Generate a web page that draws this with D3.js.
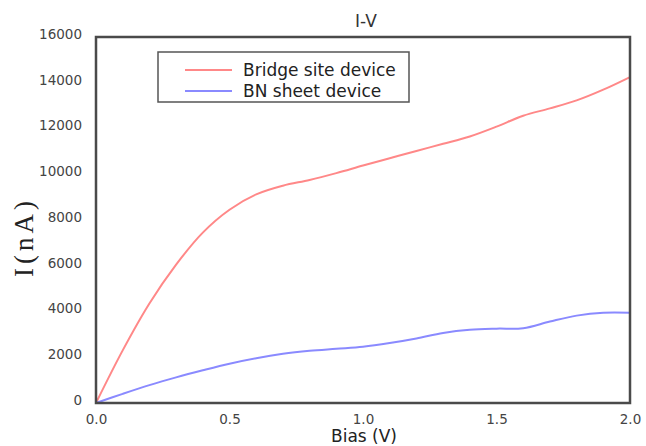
<!DOCTYPE html>
<html>
<head>
<meta charset="utf-8">
<script src="https://cdn.jsdelivr.net/npm/d3@7"></script>
<style>
  body { margin: 0; background: #fff; }
  svg text { font-family: "DejaVu Sans", Verdana, sans-serif; }
</style>
</head>
<body>
<div id="chart"></div>
<script>
// bias values (V) and currents (nA)
const bias = [0, 0.1, 0.2, 0.3, 0.4, 0.5, 0.6, 0.7, 0.8, 0.9, 1.0,
              1.1, 1.2, 1.3, 1.4, 1.5, 1.6, 1.7, 1.8, 1.9, 2.0];
const bridge = [0, 2300, 4350, 6050, 7450, 8450, 9120, 9500, 9750, 10050, 10380,
                10700, 11020, 11330, 11650, 12080, 12560, 12880, 13230, 13700, 14250];
const bnSheet = [0, 400, 780, 1120, 1430, 1720, 1960, 2150, 2280, 2370, 2460,
                 2620, 2820, 3060, 3200, 3250, 3270, 3560, 3820, 3950, 3950];

const seriesNames = ["Bridge site device", "BN sheet device"];
const xTicks = [0, 0.5, 1.0, 1.5, 2.0];
const yTicks = [0, 2000, 4000, 6000, 8000, 10000, 12000, 14000, 16000];

const width = 646, height = 446;
const margin = {top: 37, right: 16, bottom: 43, left: 96};

const svg = d3.select("#chart")
  .append("svg")
  .attr("width", width)
  .attr("height", height);

const xScale = d3.scaleLinear()
  .domain([0, 2])
  .range([margin.left, width - margin.right]);

const yScale = d3.scaleLinear()
  .domain([0, 16000])
  .range([height - margin.bottom, margin.top]);

const colors = d3.scaleOrdinal()
  .domain(seriesNames)
  .range(["#ff8888", "#8a8aff"]);

// axes, tick labels only
const xAxis = svg.append("g")
  .attr("transform", `translate(0, ${height - margin.bottom})`)
  .call(d3.axisBottom(xScale).tickValues(xTicks).tickFormat(d3.format(".1f")).tickSize(0).tickPadding(11));

const yAxis = svg.append("g")
  .attr("transform", `translate(${margin.left}, 0)`)
  .call(d3.axisLeft(yScale).tickValues(yTicks).tickFormat(d3.format("d")).tickSize(0).tickPadding(14));

svg.selectAll(".domain").remove();
svg.selectAll(".tick text")
  .attr("font-family", "DejaVu Sans")
  .attr("font-size", 13.5)
  .attr("fill", "#444");
yAxis.selectAll(".tick text").attr("dy", "0.1em");

const line = d3.line()
  .x(function(d) { return xScale(d[0]); })
  .y(function(d) { return yScale(d[1]); })
  .curve(d3.curveCatmullRom.alpha(0.5));

const series = [
  {name: seriesNames[0], values: bias.map(function(b, i) { return [b, bridge[i]]; })},
  {name: seriesNames[1], values: bias.map(function(b, i) { return [b, bnSheet[i]]; })}
];

svg.selectAll(".series")
  .data(series)
  .enter()
  .append("path")
    .attr("class", "series")
    .attr("fill", "none")
    .attr("stroke", function(d) { return colors(d.name); })
    .attr("stroke-width", 2)
    .attr("d", function(d) { return line(d.values); });

// plot frame
svg.append("rect")
  .attr("x", xScale(0))
  .attr("y", yScale(16000))
  .attr("width", xScale(2) - xScale(0))
  .attr("height", yScale(0) - yScale(16000))
  .attr("fill", "none")
  .attr("stroke", "#4a4a4a")
  .attr("stroke-width", 2.5);

// title and axis labels
svg.append("text")
  .attr("x", 366)
  .attr("y", 27)
  .attr("text-anchor", "middle")
  .attr("font-size", 17)
  .attr("fill", "#333")
  .text("I-V");

svg.append("text")
  .attr("x", 364)
  .attr("y", 442)
  .attr("text-anchor", "middle")
  .attr("font-size", 17)
  .attr("fill", "#222")
  .text("Bias (V)");

svg.append("text")
  .attr("transform", "translate(33, 237) rotate(-90)")
  .attr("text-anchor", "middle")
  .attr("font-size", 27)
  .attr("letter-spacing", 4)
  .attr("fill", "#222")
  .style("font-family", "'Liberation Serif', 'Times New Roman', serif")
  .text("I(nA)");

// legend
const legend = svg.append("g").attr("transform", "translate(158, 52)");
legend.append("rect")
  .attr("width", 251)
  .attr("height", 50)
  .attr("fill", "#fff")
  .attr("stroke", "#555")
  .attr("stroke-width", 1.5);

const items = legend.selectAll(".item")
  .data(seriesNames)
  .enter()
  .append("g")
    .attr("class", "item")
    .attr("transform", function(d, i) { return `translate(0, ${18 + i * 21})`; });

items.append("line")
  .attr("x1", 27).attr("x2", 74)
  .attr("stroke", function(d) { return colors(d); })
  .attr("stroke-width", 2);

items.append("text")
  .attr("x", 85)
  .attr("y", 6)
  .attr("font-size", 17)
  .attr("fill", "#222")
  .text(function(d) { return d; });
</script>
</body>
</html>
